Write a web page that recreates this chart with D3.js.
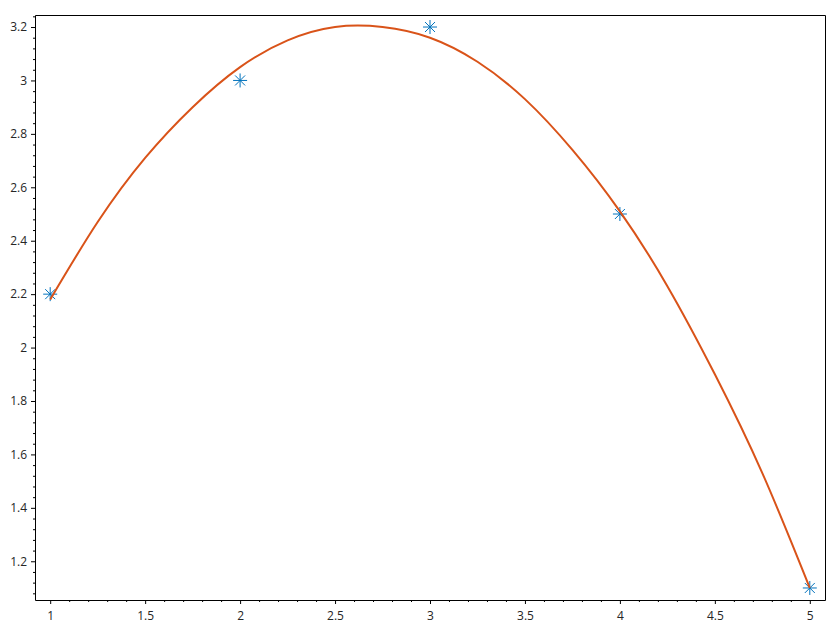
<!DOCTYPE html>
<html>
<head>
<meta charset="utf-8">
<script src="https://cdn.jsdelivr.net/npm/d3@7"></script>
<style>
  html, body { margin: 0; padding: 0; background: #fff; }
  svg { display: block; }
</style>
</head>
<body>
<svg id="chart"></svg>
<script>
// measured points
const pointX = [1, 2, 3, 4, 5];
const pointY = [2.2, 3.0, 3.2, 2.5, 1.1];

// fitted curve, every 0.25
const curveX = [1, 1.25, 1.5, 1.75, 2, 2.25, 2.5, 2.75, 3, 3.25, 3.5, 3.75, 4, 4.25, 4.5, 4.75, 5];
const curveY = [2.18, 2.47, 2.71, 2.90, 3.05, 3.15, 3.20, 3.20, 3.16, 3.07, 2.93, 2.74, 2.51, 2.23, 1.90, 1.53, 1.10];

const xTicks = [1, 1.5, 2, 2.5, 3, 3.5, 4, 4.5, 5];
const yTicks = [1.2, 1.4, 1.6, 1.8, 2, 2.2, 2.4, 2.6, 2.8, 3, 3.2];

const W = 840, H = 630;
const margin = {top: 15, right: 15, bottom: 30, left: 35};

const svg = d3.select("#chart")
    .attr("width", W)
    .attr("height", H);

const x = d3.scaleLinear()
    .domain([0.92, 5.08])
    .range([margin.left, W - margin.right]);

const y = d3.scaleLinear()
    .domain([1.055, 3.245])
    .range([H - margin.bottom, margin.top]);

// minor ticks
const xMinor = d3.range(10, 51).map(d => d / 10).filter(d => xTicks.indexOf(d) < 0);
const yMinor = d3.range(27, 82).map(d => d * 0.04).filter(d => d >= 1.06 && d <= 3.24)
    .filter(d => !yTicks.some(t => Math.abs(t - d) < 1e-6));

const font = "'Segoe UI', 'Open Sans', 'Noto Sans', sans-serif";

const xAxis = svg.append("g")
    .attr("transform", `translate(0,${H - margin.bottom})`)
    .call(d3.axisBottom(x).tickValues(xTicks).tickSize(4).tickSizeOuter(0)
        .tickFormat(d3.format("~g")));

svg.append("g")
    .attr("transform", `translate(0,${H - margin.bottom})`)
    .call(d3.axisBottom(x).tickValues(xMinor).tickSize(2).tickFormat(""))
    .call(g => g.select(".domain").remove());

const yAxis = svg.append("g")
    .attr("transform", `translate(${margin.left},0)`)
    .call(d3.axisLeft(y).tickValues(yTicks).tickSize(4).tickSizeOuter(0)
        .tickFormat(d3.format("~g")));

svg.append("g")
    .attr("transform", `translate(${margin.left},0)`)
    .call(d3.axisLeft(y).tickValues(yMinor).tickSize(2).tickFormat(""))
    .call(g => g.select(".domain").remove());

svg.selectAll(".tick text")
    .attr("font-family", font)
    .attr("font-size", 12)
    .attr("fill", "#262626");
svg.selectAll(".domain, .tick line")
    .attr("stroke", "#000");
xAxis.selectAll(".tick text").attr("dy", "1.05em");
yAxis.selectAll(".tick text").attr("x", -8);

// box top and right, on half pixels so it stays crisp
svg.append("path")
    .attr("d", `M${margin.left + 0.5},${margin.top + 0.5}H${W - margin.right + 0.5}V${H - margin.bottom + 0.5}`)
    .attr("fill", "none")
    .attr("stroke", "#000");

// asterisk markers
const pts = pointX.map((d, i) => ({x: d, y: pointY[i]}));
const r = 7, rd = 5;
svg.append("g")
    .selectAll("path")
    .data(pts)
    .join("path")
    .attr("d", d => {
        const cx = x(d.x), cy = y(d.y);
        return `M${cx - r},${cy}H${cx + r}M${cx},${cy - r}V${cy + r}` +
            `M${cx - rd},${cy - rd}L${cx + rd},${cy + rd}M${cx - rd},${cy + rd}L${cx + rd},${cy - rd}`;
    })
    .attr("fill", "none")
    .attr("stroke", "#0072bd")
    .attr("stroke-width", 1);

// fitted curve
const line = d3.line()
    .x((d, i) => x(curveX[i]))
    .y(d => y(d))
    .curve(d3.curveNatural);

svg.append("path")
    .datum(curveY)
    .attr("d", line)
    .attr("fill", "none")
    .attr("stroke", "#d95319")
    .attr("stroke-width", 2);
</script>
</body>
</html>
